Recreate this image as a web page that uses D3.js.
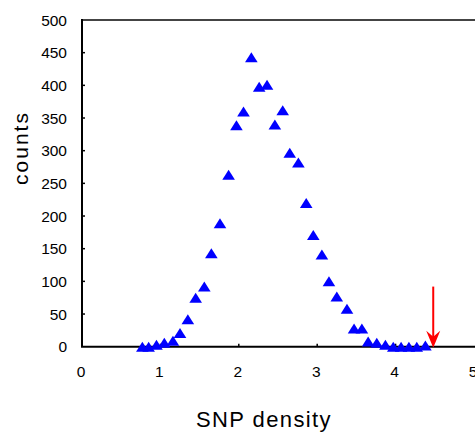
<!DOCTYPE html>
<html>
<head>
	<title>SNP density</title>
	<style>
		body { margin: 0; background: #fff; }
		text { font-family: "Liberation Sans", Arial, sans-serif; fill: #000; }
	</style>
</head>
<body>
	<script src="https://d3js.org/d3.v7.min.js"></script>
	<script>
		// values
		var density = [0.77, 0.85, 0.95, 1.05, 1.16, 1.25, 1.35, 1.45, 1.56, 1.65, 1.76, 1.87, 1.97, 2.06, 2.16, 2.26, 2.36, 2.46, 2.56, 2.65,
			2.76, 2.86, 2.95, 3.06, 3.15, 3.25, 3.38, 3.47, 3.57, 3.65, 3.76, 3.87, 3.97, 4.07, 4.17, 4.27, 4.38];
		var counts = [0, 0, 3, 6, 9, 21, 42, 75, 92, 143, 189, 263, 339, 360, 443, 398, 401, 340, 362, 297,
			282, 220, 171, 141, 100, 77, 58, 28, 28, 8, 6, 3, 0, 0, 0, 0, 2];
		var xTicks = [0, 1, 2, 3, 4, 5];
		var yTicks = [0, 50, 100, 150, 200, 250, 300, 350, 400, 450, 500];
		var arrowX = 4.48;
		var arrowTop = 92;

		var width = 475, height = 434;
		var plotLeft = 82, plotRight = 474, plotTop = 20, plotBottom = 346.7;

		var svg = d3.select("body").append("svg")
			.attr("width", width)
			.attr("height", height);

		var x = d3.scaleLinear().domain([0, 5]).range([plotLeft, plotRight]);
		var y = d3.scaleLinear().domain([0, 500]).range([plotBottom, plotTop]);

		// frame
		svg.append("line")
			.attr("x1", plotLeft).attr("x2", width + 5)
			.attr("y1", plotTop).attr("y2", plotTop)
			.style("stroke", "#444").style("stroke-width", 2);
		svg.append("line")
			.attr("x1", plotLeft).attr("x2", plotLeft)
			.attr("y1", plotTop - 1).attr("y2", plotBottom)
			.style("stroke", "#000").style("stroke-width", 2);
		svg.append("line")
			.attr("x1", plotLeft - 1).attr("x2", width + 5)
			.attr("y1", plotBottom).attr("y2", plotBottom)
			.style("stroke", "#000").style("stroke-width", 2);

		// y ticks + labels
		yTicks.forEach(function(t) {
			if (t > 0 && t < 500) {
				svg.append("line")
					.attr("x1", plotLeft).attr("x2", plotLeft + 3)
					.attr("y1", y(t)).attr("y2", y(t))
					.style("stroke", "#000").style("stroke-width", 1.5);
			}
			svg.append("text")
				.attr("x", 67)
				.attr("y", y(t))
				.attr("dy", "0.36em")
				.attr("text-anchor", "end")
				.style("font-size", "15.5px")
				.text(t);
		});

		// x ticks + labels
		xTicks.forEach(function(t) {
			if (t > 0 && t < 5) {
				svg.append("line")
					.attr("x1", x(t)).attr("x2", x(t))
					.attr("y1", plotBottom).attr("y2", plotBottom - 3)
					.style("stroke", "#000").style("stroke-width", 1.5);
			}
			svg.append("text")
				.attr("x", x(t) - 1)
				.attr("y", 377)
				.attr("text-anchor", "middle")
				.style("font-size", "15.5px")
				.text(t);
		});

		// axis titles
		svg.append("text")
			.attr("transform", "translate(28, 148) rotate(-90)")
			.attr("text-anchor", "middle")
			.style("font-size", "21px")
			.style("letter-spacing", "2px")
			.text("counts");
		svg.append("text")
			.attr("x", 264)
			.attr("y", 427)
			.attr("text-anchor", "middle")
			.style("font-size", "22px")
			.style("letter-spacing", "1.4px")
			.text("SNP density");

		// markers
		var tri = "M0,-5L6.3,5L-6.3,5Z";
		svg.append("g").selectAll("path")
			.data(density)
			.enter().append("path")
			.attr("d", tri)
			.attr("transform", function(d, i) { return "translate(" + x(d) + "," + y(counts[i]) + ")"; })
			.style("fill", "#0000ff");

		// red arrow
		svg.append("line")
			.attr("x1", x(arrowX)).attr("x2", x(arrowX))
			.attr("y1", y(arrowTop)).attr("y2", plotBottom - 8)
			.style("stroke", "#ff0000").style("stroke-width", 2);
		svg.append("path")
			.attr("d", "M0,0L-7,-17L0,-11L7,-17Z")
			.attr("transform", "translate(" + x(arrowX) + "," + (plotBottom + 1) + ")")
			.style("fill", "#ff0000");
	</script>
</body>
</html>
